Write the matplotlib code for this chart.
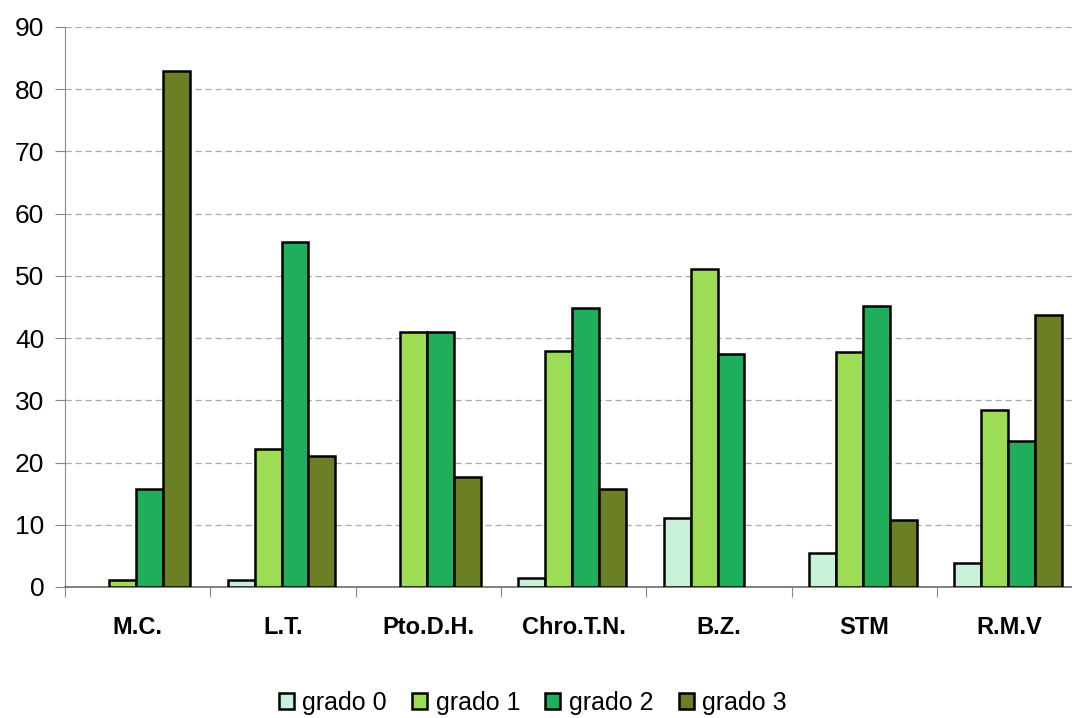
import matplotlib.pyplot as plt
from matplotlib.patches import Patch
import numpy as np

plt.rcParams['font.family'] = ['Liberation Sans', 'DejaVu Sans']

categories = ['M.C.', 'L.T.', 'Pto.D.H.', 'Chro.T.N.', 'B.Z.', 'STM', 'R.M.V']
grado0 = [0, 1.1, 0, 1.4, 11.1, 5.5, 3.8]
grado1 = [1.1, 22.2, 40.9, 37.9, 51.1, 37.8, 28.4]
grado2 = [15.8, 55.5, 40.9, 44.8, 37.4, 45.2, 23.4]
grado3 = [82.9, 21.1, 17.6, 15.8, 0, 10.8, 43.7]

series = [grado0, grado1, grado2, grado3]
labels = ['grado 0', 'grado 1', 'grado 2', 'grado 3']
colors = ['#c9f0d9', '#9ddc55', '#1fae5c', '#6b7f25']

fig = plt.figure(figsize=(10.72, 7.18), dpi=100)
ax = fig.add_axes([0.0606, 0.1825, 0.949, 0.7799])

x = np.arange(len(categories))
w = 0.185
for i, (vals, col) in enumerate(zip(series, colors)):
    bars = ax.bar(x + (i - 1.5) * w - 0.01, vals, w, color=col, edgecolor='black',
                  linewidth=1.8, zorder=3)
    # empty categories get no outline
    for b, v in zip(bars, vals):
        if v == 0:
            b.set_visible(False)

ax.set_xlim(-0.5, len(categories) - 0.5)
ax.set_ylim(0, 90)
ax.set_yticks(range(0, 91, 10))
ax.tick_params(axis='y', labelsize=19, length=7, color='#888888', pad=8)

# category labels sit between tick marks at group boundaries
ax.set_xticks(np.arange(len(categories) + 1) - 0.5)
ax.set_xticklabels([])
ax.set_xticks(x, minor=True)
ax.set_xticklabels(categories, minor=True, fontsize=17, fontweight='bold')
ax.tick_params(axis='x', which='major', length=7, color='#888888')
ax.tick_params(axis='x', which='minor', length=0, pad=21)

ax.yaxis.grid(True, color='#aaaaaa', linestyle=(0, (5, 3)), linewidth=0.9, zorder=0)
ax.spines['top'].set_visible(False)
ax.spines['right'].set_visible(False)
ax.spines['left'].set_color('#888888')
ax.spines['bottom'].set_color('#777777')
ax.spines['bottom'].set_linewidth(1.3)

handles = [Patch(facecolor=c, edgecolor='black', linewidth=1.8, label=l)
           for c, l in zip(colors, labels)]
fig.legend(handles=handles, loc='center', bbox_to_anchor=(0.497, 0.021), ncol=4,
           frameon=False, fontsize=18, handlelength=0.6, handleheight=0.6,
           handletextpad=0.35, columnspacing=1.0)

fig.savefig('out.png', dpi=100)
